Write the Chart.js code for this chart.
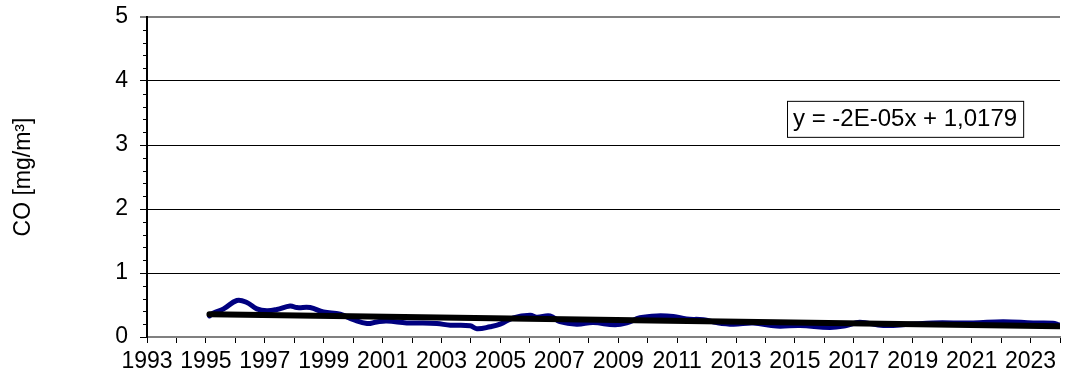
<!DOCTYPE html>
<html>
<head>
<meta charset="utf-8">
<script src="https://cdn.jsdelivr.net/npm/chart.js@4"></script>
<style>
  html, body { margin: 0; padding: 0; background: #fff; }
  #wrap { width: 1076px; height: 378px; }
</style>
</head>
<body>
<div id="wrap"><canvas id="coChart" width="1076" height="378"></canvas></div>
<script>
// CO [mg/m³] – gleitender Mittelwert
const years = [1995.12, 1995.26, 1995.60, 1996.05, 1996.39, 1996.73, 1997.07, 1997.41, 1997.86, 1998.09,
  1998.54, 1998.99, 1999.56, 2000.01, 2000.47, 2000.80, 2001.14, 2001.82, 2002.27, 2002.84,
  2003.30, 2003.97, 2004.20, 2004.65, 2004.99, 2005.44, 2006.01, 2006.23, 2006.69, 2007.02,
  2007.59, 2008.15, 2008.89, 2009.29, 2009.74, 2010.31, 2010.87, 2011.32, 2011.89, 2012.34,
  2012.91, 2013.58, 2014.38, 2015.17, 2016.19, 2016.75, 2017.20, 2018.00, 2018.90, 2019.69,
  2021.05, 2022.07, 2023.09, 2023.76, 2023.96];
const coValues = [0.33, 0.375, 0.44, 0.57, 0.54, 0.44, 0.41, 0.43, 0.485, 0.46,
  0.46, 0.39, 0.355, 0.27, 0.21, 0.235, 0.25, 0.22, 0.22, 0.21,
  0.185, 0.175, 0.13, 0.16, 0.20, 0.30, 0.34, 0.31, 0.33, 0.24,
  0.20, 0.225, 0.19, 0.22, 0.30, 0.33, 0.32, 0.28, 0.27, 0.225,
  0.20, 0.22, 0.17, 0.18, 0.15, 0.18, 0.23, 0.18, 0.20, 0.22,
  0.22, 0.24, 0.22, 0.215, 0.19];
// linearer Trend (Anfang / Ende)
const trendYears = [1995.12, 2023.96];
const trendValues = [0.355, 0.167];
const trendLabel = "y = -2E-05x + 1,0179";
const yTicks = [0, 1, 2, 3, 4, 5];

const FONT = "Liberation Sans, Arial, sans-serif";

const minorTicks = {
  id: "minorTicks",
  afterDraw(chart) {
    const { ctx, scales: { y } } = chart;
    ctx.save();
    ctx.strokeStyle = "#000";
    ctx.lineWidth = 1;
    for (let v = 0; v < 5; v += 0.2) {
      if (Math.abs(v - Math.round(v)) < 1e-6) continue;
      const py = Math.round(y.getPixelForValue(v)) + 0.5;
      ctx.beginPath();
      ctx.moveTo(y.right - 4, py);
      ctx.lineTo(y.right, py);
      ctx.stroke();
    }
    ctx.restore();
  }
};

const eqBox = {
  id: "eqBox",
  afterDraw(chart) {
    const { ctx, chartArea: a } = chart;
    const x = a.left + (a.right - a.left) * 0.701;
    const y = a.top + (a.bottom - a.top) * 0.262;
    ctx.save();
    ctx.font = "24px " + FONT;
    const w = ctx.measureText(trendLabel).width + 12;
    ctx.fillStyle = "#fff";
    ctx.fillRect(x, y, w, 36);
    ctx.strokeStyle = "#000";
    ctx.lineWidth = 1;
    ctx.strokeRect(x + 0.5, y + 0.5, w, 36);
    ctx.fillStyle = "#000";
    ctx.textBaseline = "middle";
    ctx.fillText(trendLabel, x + 6, y + 19);
    ctx.restore();
  }
};

new Chart(document.getElementById("coChart"), {
  type: "line",
  data: {
    datasets: [{
      label: "Trend",
      data: trendYears.map((t, i) => ({ x: t, y: trendValues[i] })),
      borderColor: "#000",
      borderWidth: 6,
      pointRadius: 0,
      borderCapStyle: "round",
      order: 0
    }, {
      label: "CO",
      data: years.map((t, i) => ({ x: t, y: coValues[i] })),
      borderColor: "#000080",
      borderWidth: 5,
      pointRadius: 0,
      tension: 0.4,
      borderCapStyle: "round",
      order: 1
    }]
  },
  options: {
    responsive: false,
    animation: false,
    layout: { padding: { top: 17, right: 16, left: 0, bottom: 0 } },
    plugins: { legend: { display: false }, tooltip: { enabled: false } },
    scales: {
      x: {
        type: "linear",
        min: 1993,
        max: 2024,
        afterFit: s => { s.height = 41; },
        afterBuildTicks: s => {
          s.ticks = [];
          for (let t = 1993; t <= 2024; t++) s.ticks.push({ value: t });
        },
        ticks: {
          autoSkip: false,
          maxRotation: 0,
          padding: 5,
          color: "#000",
          font: { family: FONT, size: 23 },
          callback: v => (v % 2 === 1 && v < 2024 ? String(v) : "")
        },
        grid: { drawOnChartArea: false, drawTicks: true, tickLength: 6, color: "#000", lineWidth: 1 },
        border: { color: "#808080", width: 2 }
      },
      y: {
        min: 0,
        max: 5,
        afterFit: s => { s.width = 147; s.paddingTop = 0; s.paddingBottom = 0; },
        afterBuildTicks: s => { s.ticks = yTicks.map(v => ({ value: v })); },
        ticks: {
          padding: 12,
          color: "#000",
          font: { family: FONT, size: 23 }
        },
        grid: {
          tickLength: 7,
          color: c => (c.tick && c.tick.value === 5 ? "#808080" : "#000"),
          lineWidth: c => (c.tick && c.tick.value === 5 ? 2 : 1)
        },
        border: { color: "#000", width: 2 },
        title: {
          display: true,
          text: "CO [mg/m³]",
          color: "#000",
          font: { family: FONT, size: 23 },
          padding: { top: 10, bottom: 0 }
        }
      }
    }
  },
  plugins: [minorTicks, eqBox]
});
</script>
</body>
</html>
